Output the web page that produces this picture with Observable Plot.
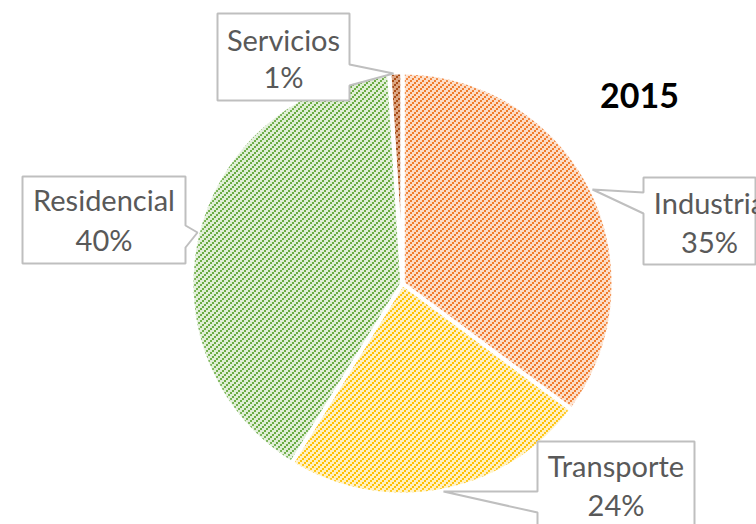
<!DOCTYPE html>
<html>
<head>
<meta charset="utf-8">
<script src="https://cdn.jsdelivr.net/npm/d3@7"></script>
<script src="https://cdn.jsdelivr.net/npm/@observablehq/plot@0.6"></script>
<style>
  html, body { margin: 0; padding: 0; background: #fff; }
  #chart { width: 756px; height: 524px; overflow: hidden; position: relative; }
  #chart svg { display: block; overflow: hidden; }
</style>
</head>
<body>
<div id="chart"></div>
<script>
// ---------- data ----------
const sectors = ["Industria", "Transporte", "Residencial", "Servicios"];
const shares = [35.2, 23.6, 40.2, 1.0];   // % (labels show rounded values)
const chartTitle = "2015";

// ---------- styles ----------
const stripeColors = ["#f07b2c", "#ffc000", "#6aab43", "#a94c16"];
const groundColors = ["#fcdcc6", "#fff0c0", "#dfeed5", "#dca684"];
const labelFont = "Lato, 'Noto Sans', sans-serif";
const labelSize = 29;
const titleSize = 34;

// ---------- layout (pixels) ----------
const W = 756, H = 524, CX = 402, CY = 283, R = 211;
const px = v => (v - CX) / R;
const py = v => (CY - v) / R;
const calloutLayout = {
  Servicios:   {box: [[217,13],[349,13],[349,64],[393,73],[349,85],[349,100],[217,100]], tx: 283, b1: 50, b2: 87},
  Residencial: {box: [[22,176],[185,176],[185,225],[197,232],[185,247],[185,263],[22,263]], tx: 103.5, b1: 210, b2: 250},
  Industria:   {box: [[643,177],[755,177],[755,264],[643,264],[643,213],[592,189],[643,192]], tx: 709, b1: 213, b2: 252},
  Transporte:  {box: [[537,441],[694,441],[694,545],[537,545],[537,512],[443,491],[537,491]], tx: 615.5, b1: 476, b2: 515}
};
const titlePos = {x: 639, baseline: 107};

// ---------- pie geometry from data ----------
const rows = sectors.map((name, i) => ({name, share: shares[i]}));
const arcs = d3.pie().sort(null).value(d => d.share).startAngle(0).endAngle(2 * Math.PI)(rows);
const slices = arcs.map((a, i) => {
  const n = Math.max(2, Math.ceil((a.endAngle - a.startAngle) / (Math.PI / 360)));
  const pts = [{name: a.data.name, x: 0, y: 0}];
  for (let k = 0; k <= n; k++) {
    const t = a.startAngle + (a.endAngle - a.startAngle) * k / n;
    pts.push({name: a.data.name, x: Math.sin(t), y: Math.cos(t)});
  }
  return {name: a.data.name, i, pts};
});
const slicePts = slices.flatMap(s => s.pts);

const calloutPts = sectors.flatMap(name => calloutLayout[name].box.map(([x, y]) => ({name, x: px(x), y: py(y)})));
const labels = arcs.map(a => {
  const L = calloutLayout[a.data.name];
  return {name: a.data.name, pct: Math.round(a.data.share) + "%", tx: L.tx, b1: L.b1, b2: L.b2};
});

const chart = Plot.plot({
  width: W, height: H, margin: 0,
  x: {domain: [px(0), px(W)], axis: null},
  y: {domain: [py(H), py(0)], axis: null},
  style: {background: "white", overflow: "hidden"},
  marks: [
    ...slices.map(s => Plot.line(s.pts, {x: "x", y: "y", fill: `url(#hatch${s.i})`, stroke: "none", curve: "linear-closed"})),
    Plot.line(slicePts, {x: "x", y: "y", z: "name", fill: "none", stroke: "white", strokeWidth: 4, curve: "linear-closed", strokeLinejoin: "miter"}),
    Plot.line(calloutPts, {x: "x", y: "y", z: "name", fill: "white", stroke: "#bfbfbf", strokeWidth: 2, curve: "linear-closed", strokeLinejoin: "miter"}),
    Plot.text(labels, {x: d => px(d.tx), y: d => py(d.b1 - 0.32 * labelSize), text: "name", fontSize: labelSize, fontFamily: labelFont, fill: "#595959", lineAnchor: "middle"}),
    Plot.text(labels, {x: d => px(d.tx), y: d => py(d.b2 - 0.32 * labelSize), text: "pct", fontSize: labelSize, fontFamily: labelFont, fill: "#595959", lineAnchor: "middle"}),
    Plot.text([chartTitle], {x: () => px(titlePos.x), y: () => py(titlePos.baseline - 0.32 * titleSize), text: d => d, fontSize: titleSize, fontWeight: "bold", fontFamily: labelFont, fill: "#000", lineAnchor: "middle"})
  ]
});

// ---------- hatch patterns + soft edge filter inside the plot's svg ----------
const defs = d3.select(chart).insert("defs", ":first-child");
const f = defs.append("filter").attr("id", "soft").attr("x", "-10%").attr("y", "-10%").attr("width", "120%").attr("height", "120%");
f.append("feGaussianBlur").attr("in", "SourceAlpha").attr("stdDeviation", 3).attr("result", "b");
f.append("feComposite").attr("in", "SourceGraphic").attr("in2", "b").attr("operator", "in");
const tile = 6;
stripeColors.forEach((c, i) => {
  const p = defs.append("pattern").attr("id", "hatch" + i)
    .attr("patternUnits", "userSpaceOnUse").attr("width", tile).attr("height", tile)
    .attr("x", -0.5).attr("y", -0.5);
  p.append("rect").attr("width", tile).attr("height", tile).attr("fill", groundColors[i]);
  for (let k = 0; k < 3; k++) {
    p.append("rect").attr("x", 2 * k).attr("y", tile - 2 - 2 * k).attr("width", 2).attr("height", 2).attr("fill", c);
  }
});
// soft edges on the wide slices (the thin 1% slice stays crisp so it remains visible)
d3.select(chart).selectAll('g[aria-label="line"]').filter((d, i) => i < slices.length - 1).selectAll("path").attr("filter", "url(#soft)");
document.getElementById("chart").appendChild(chart);
</script>
</body>
</html>
